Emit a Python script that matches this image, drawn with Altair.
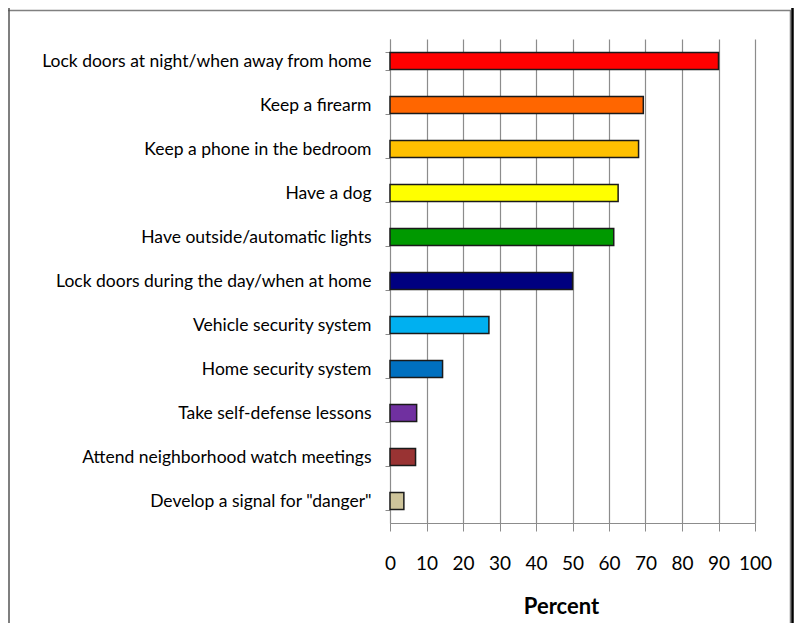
import altair as alt
import pandas as pd

categories = [
    "Lock doors at night/when away from home",
    "Keep a  firearm",
    "Keep a  phone in the bedroom",
    "Have a dog",
    "Have outside/automatic lights",
    "Lock doors during the day/when at home",
    "Vehicle security system",
    "Home security system",
    "Take self-defense  lessons",
    "Attend neighborhood watch meetings",
    "Develop a signal for \"danger\"",
]
values = [90.0, 69.4, 68.1, 62.5, 61.3, 50.0, 27.1, 14.4, 7.3, 7.0, 3.8]
colors = ["#FF0000", "#FF6600", "#FFC000", "#FFFF00", "#009900", "#000080",
          "#00B0F0", "#0070C0", "#7030A0", "#993333", "#CEC49A"]
x_ticks = [0, 10, 20, 30, 40, 50, 60, 70, 80, 90, 100]

df = pd.DataFrame({"cat": categories, "val": values, "color": colors})

FONT = "Lato"
GRID = "#8C8C8C"

bars = alt.Chart(df).mark_bar(stroke="#1a1a1a", strokeWidth=1.5).encode(
    y=alt.Y("cat:N", sort=categories,
            scale=alt.Scale(paddingInner=0.61, paddingOuter=0.305),
            axis=alt.Axis(title=None, labelFont=FONT, labelFontSize=17.5,
                          labelColor="#000000", labelPadding=14, tickSize=5,
                          tickBand="extent", tickColor=GRID, domainColor=GRID,
                          labelLimit=400, grid=False)),
    x=alt.X("val:Q", scale=alt.Scale(domain=[0, 100], nice=False),
            axis=alt.Axis(values=x_ticks, title="Percent", labelFont=FONT,
                          labelFontSize=19, labelColor="#000000", labelPadding=23,
                          labelOverlap=False, labelFlush=False,
                          tickSize=8, tickColor=GRID, domainColor=GRID,
                          gridColor=GRID, gridWidth=1.2, grid=True,
                          titleFont=FONT, titleFontSize=22, titleFontWeight="bold",
                          titleColor="#000000", titleX=171, titleY=90,
                          titleBaseline="alphabetic")),
    color=alt.Color("color:N", scale=None),
)

frame_df = pd.DataFrame({"a": [0]})
top_line = alt.Chart(frame_df).mark_rule(color="#808080", strokeWidth=1.5).encode(
    x=alt.value(-382), x2=alt.value(401), y=alt.value(-28.5))
left_line = alt.Chart(frame_df).mark_rule(color="#555555", strokeWidth=1.5).encode(
    x=alt.value(-381), y=alt.value(-31), y2=alt.value(584))
right_gray = alt.Chart(frame_df).mark_rule(color="#808080", strokeWidth=1.5).encode(
    x=alt.value(400.5), y=alt.value(-28.5), y2=alt.value(584))
right_black = alt.Chart(frame_df).mark_rule(color="#000000", strokeWidth=2.5).encode(
    x=alt.value(402.5), y=alt.value(-31), y2=alt.value(584))

chart = alt.layer(bars, top_line, left_line, right_gray, right_black).properties(
    width=365, height=484,
    autosize=alt.AutoSizeParams(type="none"),
    padding={"left": 382, "top": 31, "right": 39, "bottom": 100},
    background="#FFFFFF",
).configure_view(strokeWidth=0)

chart.save("out.html", embed_options={"renderer": "svg", "actions": False})
